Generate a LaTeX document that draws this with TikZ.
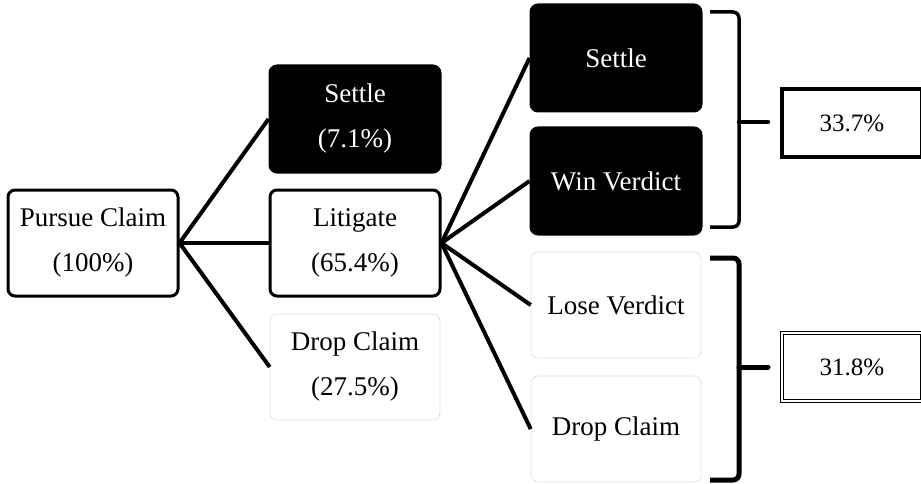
\documentclass[tikz,border=0pt]{standalone}
\usepackage{fontspec}
\setmainfont{Liberation Serif}

\begin{document}
\begin{tikzpicture}[x=1pt, y=-1pt,
  box/.style={draw, line width=3pt, rounded corners=7pt, minimum width=170pt,
    minimum height=106pt, align=center, font=\fontsize{27}{45}\selectfont},
  darkbox/.style={box, fill=black, text=white},
  faintbox/.style={box, draw=black!30, line width=0.6pt, densely dotted},
  resultbox/.style={draw, line width=3.5pt, minimum width=140pt,
    minimum height=68pt, font=\fontsize{25}{30}\selectfont},
  branch/.style={line width=4pt},
  bracket/.style={line width=3.5pt, rounded corners=6pt}]
% Fix the page to the size of the picture
\useasboundingbox (0,0) rectangle (921,484);

% First decision
\node[box] (pursue) at (93,243) {Pursue Claim\\(100\%)};

% Outcomes of pursuing the claim
\node[darkbox] (settle) at (355,119) {Settle\\(7.1\%)};
\node[box] (litigate) at (355,243) {Litigate\\(65.4\%)};
\node[faintbox] (drop) at (355,367) {Drop Claim\\(27.5\%)};

% Outcomes of litigating
\node[darkbox] (lsettle) at (616,58) {Settle};
\node[darkbox] (win) at (616,181) {Win Verdict};
\node[faintbox] (lose) at (616,305) {Lose Verdict};
\node[faintbox] (ldrop) at (616,429) {Drop Claim};

% Totals
\node[resultbox] (good) at (852,123) {33.7\%};
\node[resultbox, line width=1pt, double, double distance=1.5pt] (bad) at (852,367) {31.8\%};

% Branches
\draw[branch] (pursue.east) -- (settle.west);
\draw[branch] (pursue.east) -- (litigate.west);
\draw[branch] (pursue.east) -- (drop.west);
\draw[branch] (litigate.east) -- (lsettle.west);
\draw[branch] (litigate.east) -- (win.west);
\draw[branch] (litigate.east) -- (lose.west);
\draw[branch] (litigate.east) -- (ldrop.west);

% Brackets
\draw[bracket] (710,12) -- (739,12) -- (739,227) -- (710,227);
\draw[line width=4.5pt, line cap=round] (739,122) -- (768,122);
\draw[bracket, line width=5pt] (710,258) -- (739,258) -- (739,480) -- (710,480);
\draw[line width=5pt, line cap=round] (739,367) -- (768,367);
\end{tikzpicture}
\end{document}
